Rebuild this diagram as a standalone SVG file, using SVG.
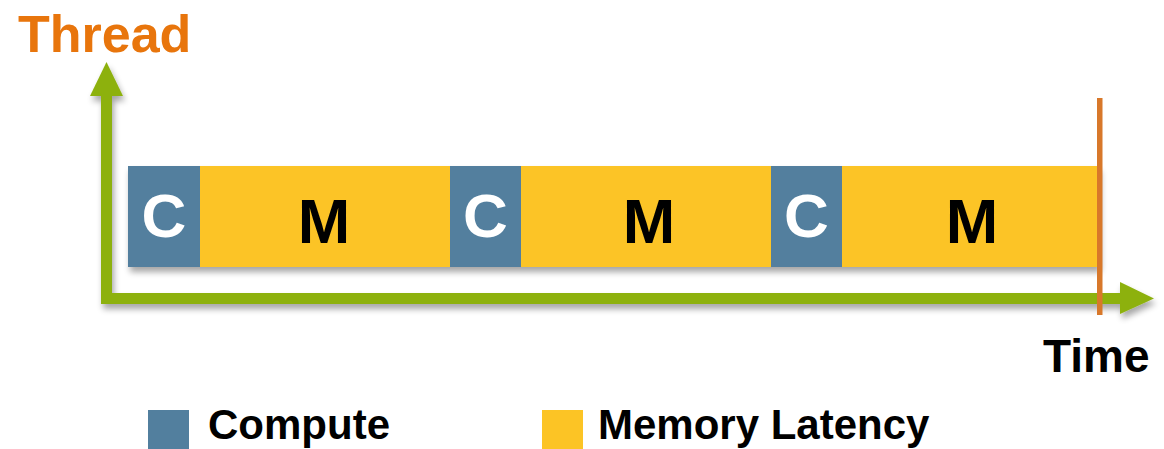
<svg xmlns="http://www.w3.org/2000/svg" width="1164" height="449" viewBox="0 0 1164 449">
<defs>
<style>
.b{font-family:"Liberation Sans",Arial,sans-serif;font-weight:bold}
.c{fill:#527f9e}
.m{fill:#fcc425}
.ct{fill:#fff;font-size:62px;text-anchor:middle}
.mt{fill:#000;font-size:63px;text-anchor:middle}
.ax{stroke:#8db10f;stroke-width:11;fill:none}
.lg{fill:#000;font-size:42px}
</style>
<filter id="sh" x="-5%" y="-20%" width="110%" height="150%">
<feGaussianBlur in="SourceAlpha" stdDeviation="3"/>
<feOffset dx="2" dy="5" result="o"/>
<feComponentTransfer><feFuncA type="linear" slope="0.35"/></feComponentTransfer>
<feMerge><feMergeNode/><feMergeNode in="SourceGraphic"/></feMerge>
</filter>
</defs>
<rect width="1164" height="449" fill="#fff"/>
<text class="b" x="18" y="52" font-size="52" fill="#e8750c">Thread</text>
<g id="connectors" filter="url(#sh)">
<path class="ax" d="M106.5 95 V298.5 H1122"/>
<polygon points="90,96 106.5,62 123,96" fill="#8db10f"/>
<polygon points="1120,282 1154,298.5 1120,314" fill="#8db10f"/>
</g>
<g id="bar" filter="url(#sh)">
<g id="c1"><rect class="c" x="128" y="166" width="72" height="101"/><text class="b ct" x="164" y="237">C</text></g>
<g id="m1"><rect class="m" x="200" y="166" width="250" height="101"/><text class="b mt" x="324" y="243">M</text></g>
<g id="c2"><rect class="c" x="450" y="166" width="71" height="101"/><text class="b ct" x="485.5" y="237">C</text></g>
<g id="m2"><rect class="m" x="521" y="166" width="251" height="101"/><text class="b mt" x="649" y="243">M</text></g>
<g id="c3"><rect class="c" x="771" y="166" width="71" height="101"/><text class="b ct" x="806.5" y="237">C</text></g>
<g id="m3"><rect class="m" x="842" y="166" width="257" height="101"/><text class="b mt" x="972" y="243">M</text></g>
</g>
<g id="now"><rect x="1097" y="98" width="5.5" height="217" fill="#d8782a"/></g>
<text class="b" x="1043" y="372" font-size="46" fill="#000">Time</text>
<g id="legend-compute"><rect class="c" x="148" y="410" width="41" height="39"/><text class="b lg" x="208" y="439">Compute</text></g>
<g id="legend-memory"><rect class="m" x="542" y="410" width="41" height="39"/><text class="b lg" x="598" y="439">Memory Latency</text></g>
</svg>
